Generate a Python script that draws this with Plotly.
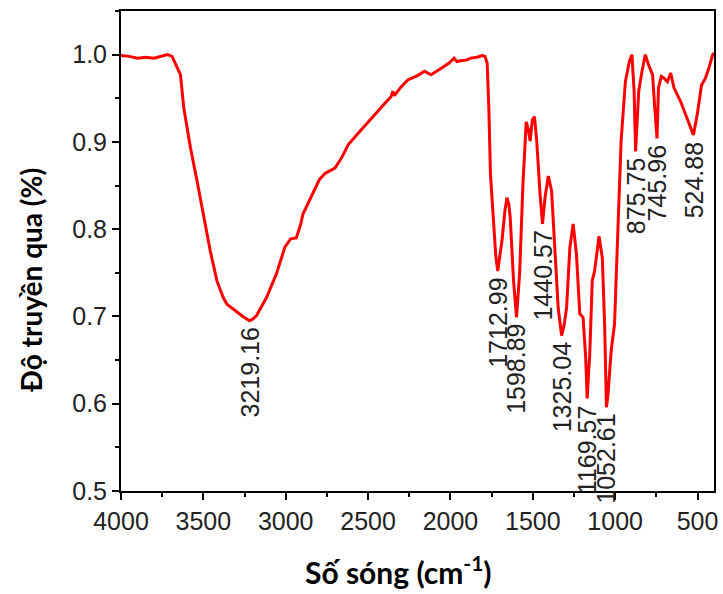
import plotly.graph_objects as go

wavenumber = [4000, 3950, 3900, 3850, 3800, 3760, 3717, 3690, 3669, 3639, 3619, 3578, 3538, 3498,
              3458, 3418, 3380, 3357, 3297, 3260, 3227, 3219, 3200, 3177, 3116, 3056, 3006, 2970,
              2936, 2910, 2896, 2845, 2795, 2760, 2701, 2660, 2620, 2560, 2500, 2440, 2399, 2360,
              2350, 2340, 2300, 2259, 2200, 2158, 2118, 2058, 2010, 1978, 1960, 1938, 1900, 1878,
              1840, 1807, 1790, 1777, 1767, 1757, 1747, 1737, 1725, 1713, 1700, 1687, 1670, 1657,
              1645, 1637, 1617, 1599, 1580, 1560, 1540, 1528, 1516, 1503, 1490, 1476, 1456, 1441,
              1426, 1406, 1386, 1366, 1346, 1325, 1310, 1295, 1275, 1255, 1235, 1215, 1195, 1179,
              1170, 1160, 1155, 1139, 1125, 1098, 1078, 1064, 1053, 1044, 1024, 1004, 984, 964,
              938, 914, 898, 885, 876, 866, 857, 837, 817, 797, 773, 760, 746, 737, 720, 703, 683,
              663, 643, 602, 562, 540, 525, 502, 476, 452, 432, 408, 400]
transmittance = [0.999, 0.998, 0.996, 0.997, 0.996, 0.998, 1.000, 0.998, 0.989, 0.977, 0.939, 0.893,
                 0.855, 0.813, 0.775, 0.741, 0.722, 0.714, 0.705, 0.700, 0.696, 0.695, 0.697, 0.701,
                 0.722, 0.749, 0.779, 0.789, 0.790, 0.805, 0.817, 0.838, 0.857, 0.864, 0.870, 0.882,
                 0.897, 0.910, 0.923, 0.935, 0.944, 0.952, 0.958, 0.953, 0.963, 0.971, 0.976, 0.981,
                 0.977, 0.984, 0.990, 0.996, 0.992, 0.993, 0.994, 0.996, 0.997, 0.999, 0.998, 0.990,
                 0.939, 0.863, 0.836, 0.802, 0.770, 0.752, 0.768, 0.787, 0.820, 0.836, 0.828, 0.813,
                 0.741, 0.699, 0.749, 0.851, 0.923, 0.915, 0.901, 0.925, 0.929, 0.901, 0.840, 0.806,
                 0.836, 0.861, 0.844, 0.779, 0.710, 0.678, 0.690, 0.710, 0.779, 0.806, 0.771, 0.703,
                 0.699, 0.653, 0.606, 0.640, 0.653, 0.741, 0.752, 0.792, 0.767, 0.691, 0.596, 0.610,
                 0.661, 0.691, 0.787, 0.901, 0.969, 0.992, 1.000, 0.958, 0.889, 0.930, 0.958, 0.981,
                 1.000, 0.988, 0.977, 0.940, 0.904, 0.962, 0.975, 0.973, 0.969, 0.979, 0.962, 0.946,
                 0.927, 0.915, 0.908, 0.931, 0.965, 0.973, 0.984, 1.000, 1.002]

peak_labels = ["3219.16", "1712.99", "1598.89", "1440.57", "1325.04", "1169.57", "1052.61",
               "875.75", "745.96", "524.88"]
peak_pos = [3219.16, 1712.99, 1598.89, 1440.57, 1325.04, 1169.57, 1052.61, 875.75, 745.96, 524.88]
peak_val = [0.695, 0.752, 0.699, 0.806, 0.678, 0.606, 0.596, 0.889, 0.904, 0.908]

fig = go.Figure()
fig.add_trace(go.Scatter(x=wavenumber, y=transmittance, mode="lines",
                         line=dict(color="#ff0000", width=3), showlegend=False))

for lab, px, pv in zip(peak_labels, peak_pos, peak_val):
    fig.add_annotation(x=px, y=pv, text=lab, textangle=-90, showarrow=False,
                       xanchor="center", yanchor="top", yshift=-5,
                       font=dict(family="Liberation Sans, Arial", size=25, color="#222222"))

fig.add_annotation(xref="paper", yref="paper", x=-0.152, y=0.44, text="Độ truyền qua (%)",
                   textangle=-90, showarrow=False, xanchor="center", yanchor="middle",
                   font=dict(family="Lato", size=28, color="#000000", weight="bold"))
fig.add_annotation(xref="paper", yref="paper", x=0.468, y=-0.165, text="Số sóng (cm<sup>-1</sup>)",
                   showarrow=False, xanchor="center", yanchor="middle",
                   font=dict(family="Lato", size=30, color="#000000", weight="bold"))

axis_common = dict(showgrid=False, zeroline=False, showline=True, linecolor="black", linewidth=2,
                   mirror=True, ticks="outside", ticklen=7, tickwidth=2, tickcolor="black",
                   tickfont=dict(family="Liberation Sans, Arial", size=25, color="#222222"))

fig.update_xaxes(range=[4000, 400], dtick=500, tick0=0,
                 minor=dict(ticks="outside", ticklen=4, tickwidth=2, tickcolor="black", dtick=250, tick0=0),
                 **axis_common)
fig.update_yaxes(range=[0.5, 1.05], dtick=0.1, tick0=0, tickformat=".1f",
                 minor=dict(ticks="outside", ticklen=4, tickwidth=2, tickcolor="black", dtick=0.05, tick0=0),
                 **axis_common)

fig.update_layout(width=723, height=594, margin=dict(l=121, r=5, t=11, b=103),
                  plot_bgcolor="white", paper_bgcolor="white")

fig.write_html("out.html")
